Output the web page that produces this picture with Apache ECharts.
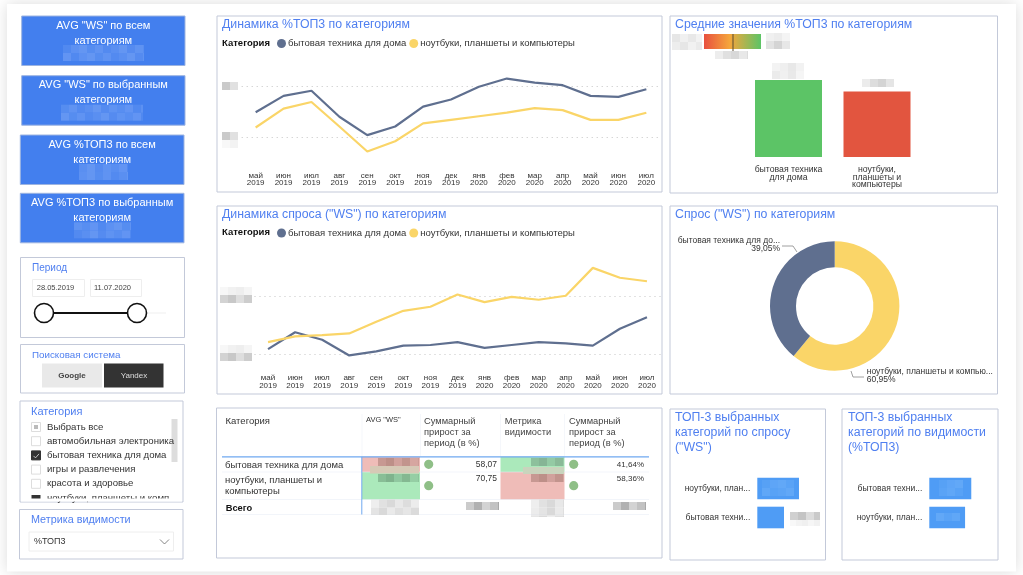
<!DOCTYPE html>
<html>
<head>
<meta charset="utf-8">
<script src="https://cdn.jsdelivr.net/npm/echarts@6/dist/echarts.min.js"></script>
<style>
  html, body { margin: 0; padding: 0; background: #fff; }
  #chart { width: 1023px; height: 575px; }
</style>
</head>
<body>
<div id="chart"></div>
<script>
// data (blurred values are estimates)
const months = ['май\n2019', 'июн\n2019', 'июл\n2019', 'авг\n2019', 'сен\n2019', 'окт\n2019', 'ноя\n2019', 'дек\n2019',
  'янв\n2020', 'фев\n2020', 'мар\n2020', 'апр\n2020', 'май\n2020', 'июн\n2020', 'июл\n2020']
const nameHome = 'бытовая техника для дома'
const nameLaptop = 'ноутбуки, планшеты и компьютеры'
const top3Home = [15.0, 18.2, 19.2, 14.1, 10.5, 12.2, 16.1, 17.5, 20.0, 21.6, 20.8, 20.3, 18.2, 18.0, 19.5]
const top3Laptop = [12.0, 15.7, 17.0, 12.2, 7.3, 9.3, 12.8, 13.5, 14.2, 14.9, 15.8, 15.4, 13.5, 13.5, 14.9]
const wsHome = [109, 138, 125, 98, 105, 115, 116, 121, 111, 116, 121, 119, 115, 144, 164]
const wsLaptop = [121, 131, 133, 136, 156, 175, 182, 203, 190, 199, 194, 201, 249, 232, 226]
const avgCategories = ['бытовая техника\nдля дома', 'ноутбуки,\nпланшеты и\nкомпьютеры']
const avgValues = [17.6, 15.0]
const avgColors = ['#5cc466', '#e2553f']
const shareValues = [60.95, 39.05]
const topWsCategories = ['ноутбуки, план...', 'бытовая техни...']
const topWsValues = [60.95, 39.05]
const topVisCategories = ['бытовая техни...', 'ноутбуки, план...']
const topVisValues = [17.6, 15.0]
const filterCategories = ['Выбрать все', 'автомобильная электроника', 'бытовая техника для дома', 'игры и развлечения', 'красота и здоровье', 'ноутбуки, планшеты и комп']

const FONT = '"Liberation Sans", Arial, sans-serif'
const BLUE = '#4f7ff0'
const DARK = '#5f6f8f'
const YELLOW = '#fad568'
const BORDER = '#c3c9d9'
const TILES = [0.45, 0.8, 1, 0.6, 0.9, 0.5, 0.7, 1, 0.55, 0.85, 0.65, 0.95]

const g = []
function box(x0, y0, x1, y1, fill, stroke, extra) {
  g.push(Object.assign({ type: 'rect', silent: true, shape: { x: x0, y: y0, width: x1 - x0, height: y1 - y0 },
    style: { fill: fill || 'none', stroke: stroke || null, lineWidth: stroke ? 1 : 0 } }, extra || {}))
}
function text(str, x, y, size, color, opt) {
  opt = opt || {}
  g.push({ type: 'text', silent: true, x: x, y: y, z: opt.z || 5,
    style: { text: str, fontFamily: FONT, fontSize: size, fill: color || '#222', fontWeight: opt.bold ? 'bold' : 'normal',
      align: opt.align || 'left', verticalAlign: 'middle' } })
}
function title(lines, x, y) {
  lines.forEach((s, i) => text(s, x, y + i * 15, 12.3, BLUE))
}
// pixelated blocks that hide the real numbers in the source image
function mosaic(x0, y0, x1, y1, color, size, seed) {
  let n = seed || 0
  for (let y = y0; y < y1; y += size) {
    for (let x = x0; x < x1; x += size) {
      g.push({ type: 'rect', silent: true, z: 6, shape: { x: x, y: y, width: Math.min(size, x1 - x), height: Math.min(size, y1 - y) },
        style: { fill: color, opacity: TILES[n++ % TILES.length] } })
    }
  }
}

// page card
box(7, 4, 1016, 571.5, '#fff', null, { style: { fill: '#fff', shadowBlur: 14, shadowColor: 'rgba(0,0,0,0.14)' } })

// KPI cards
const kpi = [
  [21.7, 16, 185, ['AVG "WS" по всем', 'категориям'], 63, 144],
  [21.7, 75.7, 185, ['AVG "WS" по выбранным', 'категориям'], 61, 143],
  [20.3, 135, 184, ['AVG %ТОП3 по всем', 'категориям'], 79, 128],
  [20.3, 193.3, 184, ['AVG %ТОП3 по выбранным', 'категориям'], 74, 131]
]
kpi.forEach((k, i) => {
  box(k[0], k[1], k[2], k[1] + 49.5, '#437fee', '#9db4e0')
  k[3].forEach((s, j) => text(s, (k[0] + k[2]) / 2, k[1] + 9.5 + j * 15, 11, '#fff', { align: 'center' }))
  mosaic(k[4], k[1] + 29, k[5], k[1] + 45, '#6496f2', 8, i * 3)
})

// period filter
box(20.5, 257.5, 184.5, 337.5, '#fff', BORDER)
text('Период', 32, 268.5, 10, BLUE)
box(32.5, 279.5, 84.5, 296.5, '#fff', '#eee')
box(90.5, 279.5, 141.5, 296.5, '#fff', '#eee')
text('28.05.2019', 55.5, 288, 7.5, '#444', { align: 'center' })
text('11.07.2020', 112.5, 288, 7.5, '#444', { align: 'center' })
box(137, 312.5, 166, 313.5, '#eee')
box(44, 312, 137, 314, '#111')
;[44, 137].forEach(cx => g.push({ type: 'circle', silent: true, shape: { cx: cx, cy: 313, r: 9.5 }, style: { fill: '#fff', stroke: '#111', lineWidth: 1.6 } }))

// search engine filter
box(20.5, 344.5, 184.5, 393, '#fff', BORDER)
text('Поисковая система', 32, 355.5, 9.8, BLUE)
box(42, 363.5, 102, 387.5, '#e9e9e9')
box(104, 363.5, 163.5, 387.5, '#333')
text('Google', 72, 376, 8, '#444', { align: 'center', bold: true })
text('Yandex', 134, 376, 8, '#ddd', { align: 'center' })

// category filter
box(20, 401, 183, 502, '#fff', BORDER)
text('Категория', 31, 411.5, 11, BLUE)
filterCategories.forEach((s, i) => {
  const y = 427 + i * 14.2
  if (i < 5) {
    box(31.5, y - 4.5, 40.5, y + 4.5, i === 2 ? '#333' : '#fff', i === 2 ? '#333' : '#ddd')
    if (i === 0) box(34, y - 2, 38, y + 2, '#bbb')
    if (i === 2) g.push({ type: 'polyline', silent: true, z: 5, shape: { points: [[33.5, y + 0.5], [35.5, y + 2.5], [39, y - 1.5]] }, style: { stroke: '#fff', fill: 'none', lineWidth: 0.7 } })
    text(s, 47, y, 9.6, '#333')
  }
})
box(31.5, 495, 40.5, 499, '#333')
text(filterCategories[5], 47, 498.5, 9.6, '#333')
box(21, 498.5, 182, 501.5, '#fff', null, { z: 6 })
box(171.5, 419, 177.5, 462, '#ddd')

// visibility metric filter
box(19.5, 509.5, 183, 559, '#fff', BORDER)
text('Метрика видимости', 31, 520.5, 10.8, BLUE)
box(29, 532, 173.5, 551, '#fff', '#eee')
text('%ТОП3', 34, 542, 9, '#333')
g.push({ type: 'polyline', silent: true, shape: { points: [[160, 539.5], [164.5, 544], [169, 539.5]] }, style: { stroke: '#666', fill: 'none', lineWidth: 0.8 } })

// chart panels
box(217, 16, 662, 192, '#fff', BORDER)
box(217, 206, 662, 394, '#fff', BORDER)
box(670, 16, 997.5, 193, '#fff', BORDER)
box(670, 206, 997.5, 394, '#fff', BORDER)
box(216.5, 408, 662, 558, '#fff', BORDER)
box(670, 409, 825.5, 560, '#fff', BORDER)
box(842, 409, 998, 560, '#fff', BORDER)

title(['Динамика %ТОП3 по категориям'], 222, 25)
title(['Динамика спроса ("WS") по категориям'], 222, 215)
title(['Средние значения %ТОП3 по категориям'], 675, 25)
title(['Спрос ("WS") по категориям'], 675, 215)
title(['ТОП-3 выбранных', 'категорий по спросу', '("WS")'], 675, 418)
title(['ТОП-3 выбранных', 'категорий по видимости', '(%ТОП3)'], 848, 418)
text('Категория', 222, 43, 9.5, '#111', { bold: true })
text('Категория', 222, 232.5, 9.5, '#111', { bold: true })

// blurred axis labels
mosaic(222, 82, 238, 90, '#c4c4c4', 8, 4)
mosaic(222, 132, 238, 140, '#c4c4c4', 8, 4)
mosaic(222, 140, 238, 148, '#f0f0f0', 8, 0)
mosaic(220, 287, 252, 295, '#eeeeee', 8, 0)
mosaic(220, 295, 252, 303, '#c8c8c8', 8, 1)
mosaic(220, 345, 252, 353, '#eeeeee', 8, 0)
mosaic(220, 353, 252, 361, '#c8c8c8', 8, 1)

// gradient scale of the average bars
mosaic(672, 34, 702, 50, '#e6e6e6', 8, 2)
mosaic(766, 33, 790, 41, '#ececec', 8, 1)
mosaic(766, 41, 790, 49, '#cfcfcf', 8, 3)
mosaic(715, 51, 748, 59, '#d8d8d8', 8, 0)
g.push({ type: 'rect', silent: true, shape: { x: 704, y: 34, width: 57, height: 15 }, style: {
  fill: { type: 'linear', x: 0, y: 0, x2: 1, y2: 0, colorStops: [
    { offset: 0, color: '#e8503f' }, { offset: 0.45, color: '#f5a63c' }, { offset: 1, color: '#5cc466' }] } } })
box(732.5, 34, 733.5, 51, '#5a4a30')
mosaic(772, 63, 804, 79, '#e8e8e8', 8, 5)
mosaic(862, 79, 894, 87, '#d4d4d4', 8, 0)

// table
const tableTop = 456.7
box(362, tableTop, 420, 472, '#efbcb8')
box(362, 472, 420, 499.5, '#abe9bb')
box(500.5, tableTop, 564.5, 472, '#abe9bb')
box(500.5, 472, 564.5, 499.5, '#efbcb8')
mosaic(378, 458, 419, 466, '#bd8f88', 8, 1)
box(370, 466, 419, 473.5, '#d6c9b6', null, { z: 6 })
mosaic(378, 474, 419, 482, '#7fb38d', 8, 1)
mosaic(531, 458, 564, 466, '#86b595', 8, 1)
box(523, 467, 564, 474, '#c9d4bd', null, { z: 6 })
mosaic(531, 474, 564, 482, '#bd8f88', 8, 1)
mosaic(371, 499.5, 419, 515, '#d9d9d9', 8, 0)
mosaic(466, 502, 499, 510, '#a8a8a8', 8, 3)
mosaic(531, 499.5, 564, 517, '#d9d9d9', 8, 0)
mosaic(613, 502, 646, 510, '#a8a8a8', 8, 3)
;[[361.7], [420.3], [500.3], [564.3]].forEach(c => box(c[0], 414, c[0] + 0.6, 456, '#eef2f8'))
box(222, 456.2, 649, 457.4, '#6fa8f0')
box(361.3, 456.7, 362.3, 514.5, '#6fa8f0', null, { z: 4 })
;[471.7, 499.5, 514].forEach(y => box(222, y, 649, y + 0.6, '#e6ecf5'))
text('Категория', 225.5, 421, 9.5, '#333')
text('AVG "WS"', 366, 420, 7.5, '#333')
;['Суммарный', 'прирост за', 'период (в %)'].forEach((s, i) => {
  text(s, 424, 421 + i * 11.2, 9.3, '#444')
  text(s, 569, 421 + i * 11.2, 9.3, '#444')
})
text('Метрика', 504.7, 421, 9.3, '#444')
text('видимости', 504.7, 432.2, 9.3, '#444')
text(nameHome, 225, 465.7, 9.5, '#333')
text('ноутбуки, планшеты и', 225, 480.7, 9.5, '#333')
text('компьютеры', 225, 491.7, 9.5, '#333')
text('Всего', 225.7, 508, 9.3, '#111', { bold: true })
;[[428.7, 464.3], [428.7, 485.7], [573.7, 464.3], [573.7, 485.7]].forEach(c =>
  g.push({ type: 'circle', silent: true, z: 5, shape: { cx: c[0], cy: c[1], r: 4.6 }, style: { fill: '#8fbf87' } }))
text('58,07', 497, 464.3, 8.5, '#333', { align: 'right' })
text('70,75', 497, 479, 8.5, '#333', { align: 'right' })
text('41,64%', 644, 464.3, 8, '#333', { align: 'right' })
text('58,36%', 644, 479, 8, '#333', { align: 'right' })

// blurred values on and next to the top-3 bars
mosaic(762, 480, 794, 496, '#62a8f7', 8, 0)
mosaic(790, 512, 820, 520, '#c4c4c4', 8, 1)
mosaic(790, 520, 820, 526, '#f0f0f0', 6, 0)
mosaic(939, 480, 963, 496, '#62a8f7', 8, 0)
mosaic(936, 513, 960, 521, '#62a8f7', 8, 2)

const lineGrid = (top, left, width, height) => ({ top, left, width, height })
const hiddenX = (idx, margin) => ({ type: 'category', gridIndex: idx, data: months, axisLine: { show: false }, axisTick: { show: false },
  axisLabel: { inside: true, margin, interval: 0, fontFamily: FONT, fontSize: 8, lineHeight: 7.5, color: '#333', hideOverlap: false } })
const dottedY = (idx, max, interval) => ({ type: 'value', gridIndex: idx, min: 0, max, interval, axisLine: { show: false }, axisTick: { show: false },
  axisLabel: { show: false }, splitLine: { showMinLine: false, showMaxLine: false, lineStyle: { type: [1, 4], color: '#c4c4c4', width: 1 } } })
const line = (name, idx, data, color) => ({ type: 'line', name, xAxisIndex: idx, yAxisIndex: idx, data, symbol: 'none', smooth: false,
  lineStyle: { color, width: 2.2 }, itemStyle: { color } })
const legend = (top) => ({ left: 277, top, icon: 'circle', itemWidth: 9, itemHeight: 9, itemGap: 3, padding: 0, selectedMode: false,
  textStyle: { fontFamily: FONT, fontSize: 9.5, color: '#333', padding: [0, 0, 0, -3] }, data: [nameHome, nameLaptop] })
const catAxisRight = (idx, data) => ({ type: 'category', gridIndex: idx, data, inverse: true, axisLine: { show: false }, axisTick: { show: false },
  axisLabel: { margin: 7, fontFamily: FONT, fontSize: 8.5, color: '#333' } })
const hiddenValue = (idx, max) => ({ type: 'value', gridIndex: idx, min: 0, max, show: false })

const option = {
  animation: false,
  backgroundColor: '#fff',
  graphic: { elements: g },
  legend: [legend(38.5), legend(228)],
  grid: [
    lineGrid(35.7, 241.7, 418.6, 153),
    lineGrid(238.3, 254.5, 406, 174),
    lineGrid(69.5, 744.25, 177, 87.5),
    lineGrid(474, 757.3, 68.4, 58),
    lineGrid(474, 929.3, 47.7, 58)
  ],
  xAxis: [
    hiddenX(0, 2),
    hiddenX(1, 23),
    { type: 'category', gridIndex: 2, data: avgCategories, axisLine: { show: false }, axisTick: { show: false },
      axisLabel: { margin: 9, interval: 0, fontFamily: FONT, fontSize: 8.7, lineHeight: 7.5, color: '#333' } },
    hiddenValue(3, 100),
    hiddenValue(4, 20)
  ],
  yAxis: [
    dottedY(0, 30, 10),
    dottedY(1, 300, 100),
    { type: 'value', gridIndex: 2, min: 0, max: 20, show: false },
    catAxisRight(3, topWsCategories),
    catAxisRight(4, topVisCategories)
  ],
  series: [
    line(nameHome, 0, top3Home, DARK),
    line(nameLaptop, 0, top3Laptop, YELLOW),
    line(nameHome, 1, wsHome, DARK),
    line(nameLaptop, 1, wsLaptop, YELLOW),
    { type: 'bar', xAxisIndex: 2, yAxisIndex: 2, barWidth: 67, silent: true,
      data: avgValues.map((v, i) => ({ value: v, itemStyle: { color: avgColors[i] } })) },
    { type: 'bar', xAxisIndex: 3, yAxisIndex: 3, barWidth: 21.6, silent: true, data: topWsValues, itemStyle: { color: '#4f9cf5' } },
    { type: 'bar', xAxisIndex: 4, yAxisIndex: 4, barWidth: 21.6, silent: true, data: topVisValues, itemStyle: { color: '#4f9cf5' } },
    { type: 'pie', center: [834.7, 306], radius: [38.7, 64.7], startAngle: 90, silent: true, avoidLabelOverlap: false,
      data: [
        { name: 'ноутбуки, планшеты и компью...', value: shareValues[0], itemStyle: { color: YELLOW }, label: { align: 'left' } },
        { name: 'бытовая техника для до...', value: shareValues[1], itemStyle: { color: DARK }, label: { align: 'right' } }
      ],
      label: { fontFamily: FONT, fontSize: 8.5, lineHeight: 8, color: '#333', overflow: 'none',
        formatter: p => p.name + '\n' + p.value.toFixed(2).replace('.', ',') + '%' },
      labelLine: { lineStyle: { color: '#888', width: 0.8 } },
      labelLayout: p => p.dataIndex === 0
        ? { x: 866.7, y: 375.5, align: 'left', verticalAlign: 'middle', labelLinePoints: [[851, 371], [853, 377], [864, 377]] }
        : { x: 780, y: 245, align: 'right', verticalAlign: 'middle', labelLinePoints: [[797, 252], [793, 246], [782, 246]] } }
  ]
}

const chart = echarts.init(document.getElementById('chart'))
chart.setOption(option)
</script>
</body>
</html>
